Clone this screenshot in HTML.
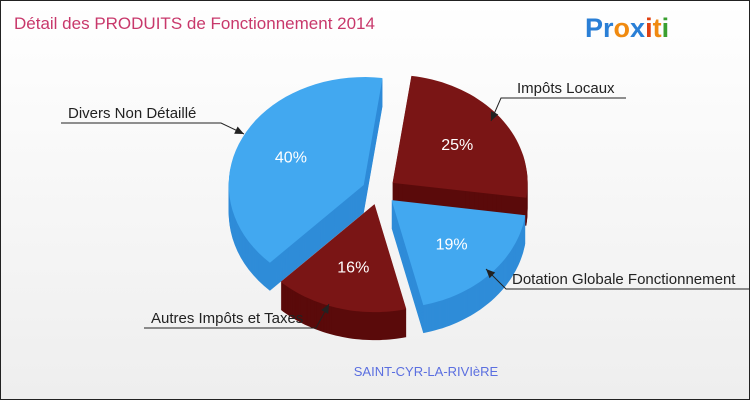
<!DOCTYPE html>
<html><head><meta charset="utf-8"><style>
body{margin:0;}
#c{width:748px;height:398px;border:1px solid #222;background:linear-gradient(#fff,#eee);position:relative;overflow:hidden;font-family:"Liberation Sans",sans-serif;}
</style></head><body>
<div id="c">
<svg id="s" width="748" height="398" viewBox="0 0 748 398">
<text x="13" y="28" font-size="17" fill="#c8386b">Détail des PRODUITS de Fonctionnement 2014</text>
<text x="584" y="36" font-size="27" font-weight="bold"><tspan fill="#2a7fd6">Pr</tspan><tspan fill="#f08a10">o</tspan><tspan fill="#2a7fd6">x</tspan><tspan fill="#e04010">i</tspan><tspan fill="#f08a10">t</tspan><tspan fill="#3aa030">i</tspan></text>
<g id="pie"></g>
<g id="labels" font-size="15" fill="#222"></g>
<text x="425" y="375" font-size="13" fill="#5b6fe0" text-anchor="middle">SAINT-CYR-LA-RIVIèRE</text>
</svg>
</div>
<script>
const categories=["Impôts Locaux","Dotation Globale Fonctionnement","Autres Impôts et Taxes","Divers Non Détaillé"];
const values=[25,19,16,40];
const pctLabels=["25%","19%","16%","40%"];
const NS="http://www.w3.org/2000/svg";
const cx=378,cy=190,rx=135,ry=108,depth=28,expl=17,startOff=8*Math.PI/180;
const tops=["#7a1515","#42a8f0","#7a1515","#42a8f0"];
const sides=["#5a0a0a","#2f8cd8","#5a0a0a","#2f8cd8"];
const total=values.reduce((a,b)=>a+b,0);
const pie=document.getElementById('pie');
function pt(x0,y0,a,r){return [x0+r*rx*Math.sin(a),y0-r*ry*Math.cos(a)];}
function path(x0,y0,a0,a1){let d=`M${x0},${y0}`;const n=40;for(let i=0;i<=n;i++){const a=a0+(a1-a0)*i/n;const p=pt(x0,y0,a,1);d+=`L${p[0].toFixed(1)},${p[1].toFixed(1)}`;}return d+'Z';}
let acc=0;const slices=[];
values.forEach((v,i)=>{const a0=startOff+acc/total*2*Math.PI;acc+=v;const a1=startOff+acc/total*2*Math.PI;const m=(a0+a1)/2;
slices.push({a0,a1,x:cx+expl*Math.sin(m),y:cy-expl*Math.cos(m)*ry/rx,m});});
const sg=document.createElementNS(NS,'g');pie.appendChild(sg);
slices.forEach((s,i)=>{for(let k=depth;k>0;k-=1){const p=document.createElementNS(NS,'path');p.setAttribute('d',path(s.x,s.y+k,s.a0,s.a1));p.setAttribute('fill',sides[i]);


sg.appendChild(p);}});
slices.forEach((s,i)=>{const p=document.createElementNS(NS,'path');p.setAttribute('d',path(s.x,s.y,s.a0,s.a1));p.setAttribute('fill',tops[i]);


pie.appendChild(p);
const lp=pt(s.x,s.y,s.m,0.6);const t=document.createElementNS(NS,'text');t.setAttribute('x',lp[0]);t.setAttribute('y',lp[1]+6);t.setAttribute('fill','#fff');t.setAttribute('font-size','16');t.setAttribute('text-anchor','middle');t.textContent=pctLabels[i];


pie.appendChild(t);});
const lab=document.getElementById('labels');
const callouts=[[516,92,500,625,97,490,120],[511,283,505,750,288,485,268],[150,322,143,315,327,328,303],[67,117,60,220,122,243,133]];
callouts.forEach((c,i)=>{const t=document.createElementNS(NS,'text');t.setAttribute('x',c[0]);t.setAttribute('y',c[1]);t.textContent=categories[i];


lab.appendChild(t);
const ex=(i==0||i==1)?c[2]:c[3];
const l=document.createElementNS(NS,'polyline');l.setAttribute('points',`${i<2?c[3]:c[2]},${c[4]} ${ex},${c[4]} ${c[5]},${c[6]}`);l.setAttribute('fill','none');l.setAttribute('stroke','#222');


lab.appendChild(l);
const ang=Math.atan2(c[6]-c[4],c[5]-ex);const a=document.createElementNS(NS,'polygon');const L=9,W=4;
const bx=c[5]-L*Math.cos(ang),by=c[6]-L*Math.sin(ang);
a.setAttribute('points',`${c[5]},${c[6]} ${bx-W*Math.sin(ang)},${by+W*Math.cos(ang)} ${bx+W*Math.sin(ang)},${by-W*Math.cos(ang)}`);a.setAttribute('fill','#222');


lab.appendChild(a);});
</script>
</body></html>
